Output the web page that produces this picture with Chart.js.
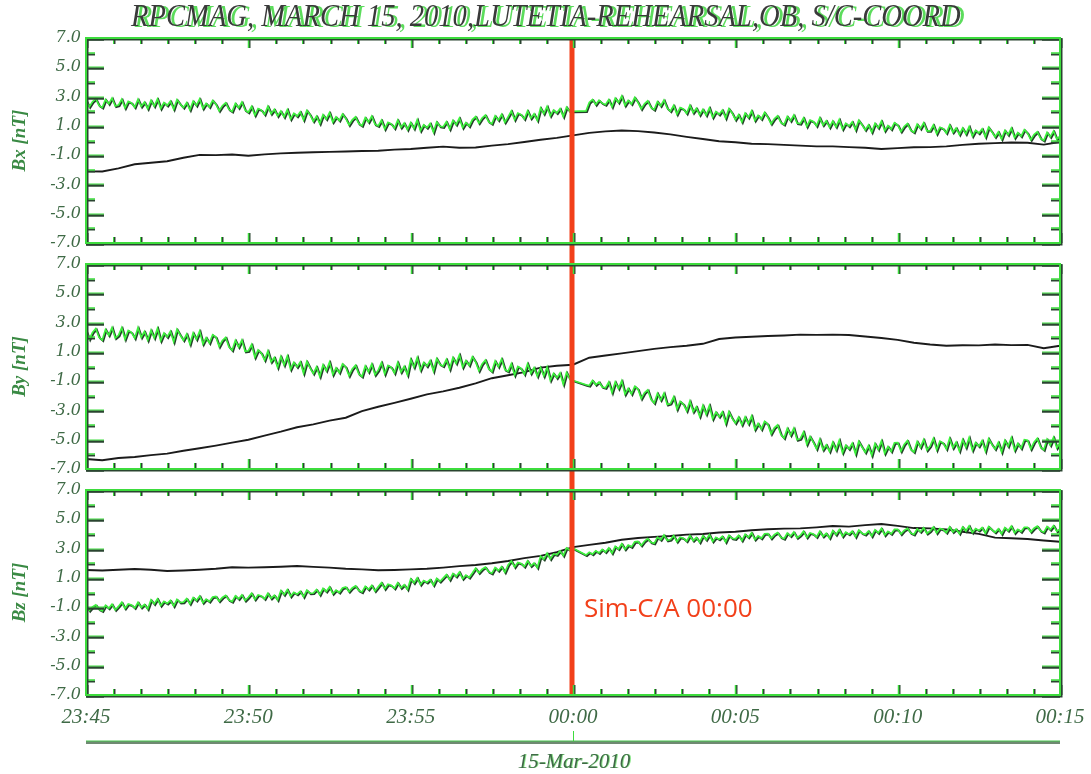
<!DOCTYPE html>
<html>
<head>
<meta charset="utf-8">
<script src="https://cdn.jsdelivr.net/npm/chart.js@4.4.1/dist/chart.umd.min.js"></script>
<style>
  html, body { margin: 0; padding: 0; background: #ffffff; }
  #wrap { position: relative; width: 1091px; height: 774px; overflow: hidden; background: #ffffff; }
  #wrap canvas { position: absolute; left: 0; }
  #title {
    position: absolute; top: -2px; left: 0; width: 1091px; text-align: center;
    font: italic 31px "Liberation Serif", serif; color: #3a3a3a; white-space: nowrap;
    text-shadow: 4px 1px 0 rgba(64, 214, 64, 0.85);
  }
  #titleText { display: inline-block; transform-origin: 50% 50%; }
  #caLabel {
    position: absolute; font: 26px "Open Sans", sans-serif; color: #f2401a;
    line-height: 26px; white-space: nowrap;
  }
  #dateLabel {
    position: absolute; top: 751px; left: 0; width: 1148px; text-align: center;
    font: italic 21px "Liberation Serif", serif; color: #3f6a46; line-height: 21px;
    text-shadow: 1px 0 0 rgba(64, 214, 64, 0.6);
  }
</style>
</head>
<body>
<div id="wrap">
  <canvas id="panelBx" width="1091" height="254" style="top:0px"></canvas>
  <canvas id="panelBy" width="1091" height="226" style="top:254px"></canvas>
  <canvas id="panelBz" width="1091" height="294" style="top:480px"></canvas>
  <div id="title"><span id="titleText">RPCMAG, MARCH 15, 2010,LUTETIA-REHEARSAL,OB, S/C-COORD</span></div>
  <div id="caLabel">Sim-C/A 00:00</div>
  <div id="dateLabel">15-Mar-2010</div>
</div>
<script>
// Time axis: minutes after 23:45 on 14/15 March 2010, 0 .. 30
const timeLabels = ['23:45', '23:50', '23:55', '00:00', '00:05', '00:10', '00:15'];
const timeTicks = [0, 5, 10, 15, 20, 25, 30];
const yTicks = [-7, -5, -3, -1, 1, 3, 5, 7];
const closestApproach = 15; // simulated closest approach, 00:00

// Green traces: one sample every 0.1 min, one row per minute (null = data gap at 00:00)
const bxGreen = [
  2.75, 2.3, 2.65, 2.85, 2.4, 2.25, 2.8, 2.5, 2.9, 2.35,
  2.42, 2.82, 2.22, 2.67, 2.57, 2.27, 2.82, 2.32, 2.62, 2.17,
  2.74, 2.34, 2.84, 2.19, 2.59, 2.39, 2.69, 2.14, 2.79, 2.49,
  2.24, 2.59, 2.09, 2.69, 2.39, 2.84, 2.19, 2.54, 2.29, 2.74,
  2.48, 2.03, 2.38, 2.58, 2.13, 1.98, 2.53, 2.23, 2.63, 2.08,
  1.93, 2.33, 1.73, 2.18, 2.08, 1.78, 2.33, 1.83, 2.13, 1.68,
  2.01, 1.61, 2.11, 1.46, 1.86, 1.66, 1.96, 1.41, 2.06, 1.76,
  1.31, 1.66, 1.16, 1.76, 1.46, 1.91, 1.26, 1.61, 1.36, 1.81,
  1.51, 1.06, 1.41, 1.61, 1.16, 1.01, 1.56, 1.26, 1.66, 1.11,
  0.99, 1.39, 0.79, 1.24, 1.14, 0.84, 1.39, 0.89, 1.19, 0.74,
  1.22, 0.82, 1.42, 0.67, 1.07, 0.87, 1.17, 0.57, 1.27, 0.97,
  0.93, 1.28, 0.78, 1.38, 1.08, 1.53, 0.88, 1.23, 0.98, 1.43,
  1.64, 1.19, 1.54, 1.74, 1.29, 1.14, 1.69, 1.39, 1.79, 1.24,
  1.62, 2.02, 1.42, 1.87, 1.77, 1.47, 2.02, 1.52, 1.82, 1.37,
  2.23, 1.83, 2.33, 1.68, 2.08, 1.88, 2.18, 1.63, 2.28, 1.98,
  2.0, null, null, null, 2.02, 2.6, 2.8, 2.45, 2.75, 2.55,
  2.44, 2.79, 2.29, 2.89, 2.59, 3.04, 2.39, 2.74, 2.49, 2.94,
  2.61, 2.16, 2.51, 2.71, 2.26, 2.11, 2.66, 2.36, 2.76, 2.21,
  2.0, 2.4, 1.8, 2.25, 2.15, 1.85, 2.4, 1.9, 2.2, 1.75,
  2.13, 1.73, 2.23, 1.58, 1.98, 1.78, 2.08, 1.53, 2.18, 1.88,
  1.42, 1.77, 1.27, 1.87, 1.57, 2.02, 1.37, 1.72, 1.47, 1.92,
  1.59, 1.14, 1.49, 1.69, 1.24, 1.09, 1.64, 1.34, 1.74, 1.19,
  1.15, 1.55, 0.95, 1.4, 1.3, 1.0, 1.55, 1.05, 1.35, 0.9,
  1.33, 0.93, 1.43, 0.78, 1.18, 0.98, 1.28, 0.73, 1.38, 1.08,
  0.72, 1.07, 0.57, 1.17, 0.87, 1.32, 0.67, 1.02, 0.77, 1.22,
  1.06, 0.61, 0.96, 1.16, 0.71, 0.56, 1.11, 0.81, 1.21, 0.66,
  0.66, 1.06, 0.46, 0.91, 0.81, 0.51, 1.06, 0.56, 0.86, 0.41,
  0.85, 0.45, 0.95, 0.3, 0.7, 0.5, 0.8, 0.25, 0.9, 0.6,
  0.24, 0.59, 0.09, 0.69, 0.39, 0.84, 0.19, 0.54, 0.29, 0.74,
  0.5, 0.05, 0.4, 0.6, 0.15, 0.0, 0.55, 0.25, 0.65, 0.1,
  0.3
];
const byGreen = [
  2.46, 1.87, 2.33, 2.59, 2.0, 1.81, 2.53, 2.13, 2.66, 1.94,
  2.13, 2.65, 1.87, 2.46, 2.33, 1.93, 2.65, 2.0, 2.39, 1.8,
  2.48, 1.95, 2.61, 1.76, 2.28, 2.02, 2.41, 1.69, 2.54, 2.15,
  1.79, 2.22, 1.53, 2.29, 1.86, 2.42, 1.54, 1.97, 1.61, 2.17,
  2.01, 1.37, 1.78, 1.99, 1.35, 1.11, 1.78, 1.33, 1.81, 1.04,
  1.07, 1.5, 0.63, 1.13, 0.91, 0.43, 1.06, 0.32, 0.62, -0.06,
  0.68, 0.1, 0.71, -0.19, 0.28, -0.03, 0.31, -0.46, 0.34, -0.1,
  -0.48, -0.02, -0.68, 0.11, -0.29, 0.3, -0.55, -0.09, -0.42, 0.17,
  -0.04, -0.63, -0.17, 0.09, -0.5, -0.69, 0.03, -0.37, 0.16, -0.56,
  -0.25, 0.27, -0.51, 0.08, -0.05, -0.45, 0.27, -0.38, 0.01, -0.58,
  0.48, -0.05, 0.61, -0.24, 0.28, 0.02, 0.41, -0.31, 0.54, 0.15,
  0.02, 0.48, -0.18, 0.61, 0.21, 0.8, -0.05, 0.41, 0.08, 0.67,
  0.31, -0.28, 0.18, 0.44, -0.15, -0.34, 0.38, -0.02, 0.51, -0.21,
  -0.33, 0.19, -0.59, 0.0, -0.13, -0.53, 0.19, -0.46, -0.07, -0.66,
  -0.07, -0.65, -0.04, -0.94, -0.47, -0.78, -0.44, -1.21, -0.41, -0.85,
  -0.95, null, null, null, -1.25, -1.3, -0.95, -1.25, -1.05, -1.4,
  -1.46, -1.06, -1.78, -1.05, -1.51, -0.98, -1.89, -1.49, -1.88, -1.35,
  -1.54, -2.19, -1.79, -1.59, -2.24, -2.49, -1.83, -2.29, -1.82, -2.6,
  -2.53, -2.07, -2.91, -2.38, -2.57, -3.03, -2.37, -3.08, -2.75, -3.4,
  -2.67, -3.26, -2.66, -3.57, -3.11, -3.43, -3.1, -3.88, -3.09, -3.54,
  -3.86, -3.46, -3.98, -3.45, -3.91, -3.38, -4.29, -3.89, -4.28, -3.75,
  -3.94, -4.59, -4.19, -3.99, -4.64, -4.89, -4.23, -4.69, -4.22, -5.0,
  -4.93, -4.47, -5.31, -4.78, -5.17, -5.63, -4.97, -5.68, -5.35, -5.8,
  -5.17, -5.7, -5.04, -5.89, -5.37, -5.63, -5.24, -5.96, -5.11, -5.5,
  -5.86, -5.4, -6.06, -5.27, -5.67, -5.08, -5.93, -5.47, -5.8, -5.21,
  -5.19, -5.78, -5.32, -5.06, -5.65, -5.84, -5.12, -5.52, -4.99, -5.71,
  -5.43, -4.91, -5.69, -5.1, -5.23, -5.63, -4.91, -5.56, -5.17, -5.76,
  -4.99, -5.52, -4.86, -5.71, -5.19, -5.45, -5.06, -5.78, -4.93, -5.32,
  -5.64, -5.18, -5.84, -5.05, -5.45, -4.86, -5.71, -5.25, -5.58, -4.99,
  -5.04, -5.63, -5.17, -4.91, -5.5, -5.69, -4.97, -5.37, -4.84, -5.56,
  -5.2
];
const bzGreen = [
  -0.91, -1.23, -0.98, -0.84, -1.15, -1.26, -0.87, -1.08, -0.8, -1.19,
  -0.95, -0.67, -1.09, -0.78, -0.85, -1.06, -0.67, -1.02, -0.81, -1.13,
  -0.5, -0.78, -0.43, -0.89, -0.61, -0.75, -0.54, -0.93, -0.47, -0.68,
  -0.66, -0.42, -0.77, -0.34, -0.55, -0.24, -0.7, -0.45, -0.62, -0.31,
  -0.27, -0.59, -0.34, -0.2, -0.51, -0.62, -0.23, -0.44, -0.16, -0.55,
  -0.33, -0.05, -0.47, -0.16, -0.23, -0.44, -0.05, -0.4, -0.19, -0.51,
  0.13, -0.15, 0.2, -0.26, 0.02, -0.12, 0.09, -0.3, 0.16, -0.05,
  -0.04, 0.2, -0.15, 0.28, 0.07, 0.38, -0.08, 0.17, 0.0, 0.31,
  0.38, 0.06, 0.31, 0.45, 0.14, 0.03, 0.42, 0.21, 0.49, 0.1,
  0.39, 0.67, 0.25, 0.56, 0.49, 0.28, 0.67, 0.32, 0.53, 0.21,
  0.93, 0.65, 1.0, 0.54, 0.82, 0.68, 0.89, 0.5, 0.96, 0.75,
  0.98, 1.22, 0.87, 1.3, 1.09, 1.4, 0.94, 1.19, 1.02, 1.33,
  1.66, 1.34, 1.59, 1.73, 1.42, 1.31, 1.7, 1.49, 1.77, 1.38,
  1.88, 2.16, 1.74, 2.05, 1.98, 1.77, 2.16, 1.81, 2.02, 1.7,
  2.48, 2.27, 2.69, 2.29, 2.64, 2.57, 2.84, 2.52, 3.05, 2.9,
  3.02, null, null, null, 2.56, 2.75, 2.62, 2.85, 2.7, 2.95,
  2.76, 3.04, 2.69, 3.15, 2.97, 3.33, 2.95, 3.24, 3.12, 3.46,
  3.49, 3.21, 3.5, 3.68, 3.43, 3.36, 3.78, 3.6, 3.93, 3.56,
  3.61, 3.89, 3.47, 3.78, 3.71, 3.5, 3.89, 3.54, 3.75, 3.43,
  3.88, 3.6, 3.95, 3.49, 3.77, 3.63, 3.84, 3.45, 3.91, 3.7,
  3.66, 3.9, 3.55, 3.98, 3.77, 4.08, 3.62, 3.87, 3.7, 4.01,
  4.02, 3.7, 3.95, 4.09, 3.78, 3.67, 4.06, 3.85, 4.13, 3.74,
  3.9, 4.18, 3.76, 4.07, 4.0, 3.79, 4.18, 3.83, 4.04, 3.72,
  4.23, 3.95, 4.3, 3.84, 4.12, 3.98, 4.19, 3.8, 4.26, 4.05,
  3.96, 4.2, 3.85, 4.28, 4.07, 4.38, 3.92, 4.17, 4.0, 4.31,
  4.31, 3.99, 4.24, 4.38, 4.07, 3.96, 4.35, 4.14, 4.42, 4.03,
  4.2, 4.48, 4.06, 4.37, 4.3, 4.09, 4.48, 4.13, 4.34, 4.02,
  4.48, 4.2, 4.55, 4.09, 4.37, 4.23, 4.44, 4.05, 4.51, 4.3,
  4.11, 4.35, 4.0, 4.43, 4.22, 4.53, 4.07, 4.32, 4.15, 4.46,
  4.46, 4.14, 4.39, 4.53, 4.22, 4.11, 4.5, 4.29, 4.57, 4.18,
  4.35
];

// Black traces: one sample every 0.5 min
const bxBlack = [
  -2.11, -2.12, -1.9, -1.62, -1.52, -1.42, -1.18, -0.98, -1.0, -0.96,
  -1.04, -0.95, -0.88, -0.84, -0.8, -0.78, -0.75, -0.72, -0.7, -0.62,
  -0.58, -0.5, -0.42, -0.5, -0.48, -0.35, -0.25, -0.1, 0.05, 0.18,
  0.35, 0.52, 0.62, 0.68, 0.64, 0.55, 0.42, 0.25, 0.1, -0.05,
  -0.12, -0.22, -0.25, -0.3, -0.35, -0.4, -0.4, -0.45, -0.5, -0.58,
  -0.52, -0.46, -0.45, -0.4, -0.3, -0.22, -0.18, -0.14, -0.15, -0.28,
  -0.1
];
const byBlack = [
  -6.32, -6.4, -6.25, -6.18, -6.05, -5.95, -5.75, -5.58, -5.4, -5.2,
  -5.0, -4.72, -4.45, -4.15, -3.95, -3.7, -3.5, -3.05, -2.75, -2.48,
  -2.2, -1.9, -1.7, -1.45, -1.15, -0.8, -0.6, -0.38, -0.08, 0.05,
  0.12, 0.6, 0.75, 0.9, 1.05, 1.2, 1.32, 1.42, 1.55, 1.88,
  1.98, 2.03, 2.08, 2.12, 2.18, 2.16, 2.18, 2.15, 2.05, 1.95,
  1.82, 1.62, 1.5, 1.42, 1.45, 1.44, 1.5, 1.46, 1.48, 1.25,
  1.42
];
const bzBlack = [
  1.54, 1.5, 1.55, 1.6, 1.55, 1.47, 1.5, 1.55, 1.62, 1.72,
  1.7, 1.72, 1.76, 1.81, 1.75, 1.7, 1.62, 1.58, 1.52, 1.54,
  1.58, 1.62, 1.7, 1.8, 1.88, 2.0, 2.15, 2.35, 2.5, 2.75,
  3.1, 3.25, 3.4, 3.6, 3.72, 3.8, 3.86, 3.95, 4.0, 4.1,
  4.15, 4.25, 4.32, 4.36, 4.38, 4.45, 4.54, 4.5, 4.6, 4.68,
  4.55, 4.4, 4.38, 4.3, 4.15, 4.0, 3.75, 3.7, 3.65, 3.55,
  3.47
];

const frameGreen = '#3ddc3d';
const frameDark = '#2a4430';
const labelColor = '#3f6a46';
const minorPerMajorX = 6;   // minor x ticks split each 5-minute step in six
const EDGE_INDEX = 1;       // dark copy of the green trace, printed slightly offset

// Frame, inward tick marks, closest-approach marker and date line
const panelDecor = {
  id: 'panelDecor',
  beforeDatasetDraw(chart, args) {
    if (args.index === EDGE_INDEX) { chart.ctx.save(); chart.ctx.translate(1, 1); }
  },
  afterDatasetDraw(chart, args) {
    if (args.index === EDGE_INDEX) chart.ctx.restore();
  },
  afterDatasetsDraw(chart, args, opts) {
    const ctx = chart.ctx, xs = chart.scales.x, a = chart.chartArea;
    const xp = xs.getPixelForValue(closestApproach) - 1;
    const y0 = opts.redFromCanvasTop ? 0 : a.top;
    const y1 = opts.redToCanvasBottom ? chart.height : a.bottom;
    ctx.save();
    ctx.fillStyle = '#f2401a';
    ctx.fillRect(xp - 2.5, y0, 5, y1 - y0);
    ctx.restore();
  },
  afterDraw(chart, args, opts) {
    const ctx = chart.ctx, xs = chart.scales.x, ys = chart.scales.y, a = chart.chartArea;
    ctx.save();
    ctx.lineCap = 'butt';
    const hTick = (x1, x2, y, major) => {
      ctx.strokeStyle = frameDark; ctx.lineWidth = major ? 2.5 : 2;
      ctx.beginPath(); ctx.moveTo(x1, y + 1); ctx.lineTo(x2, y + 1); ctx.stroke();
      ctx.strokeStyle = frameGreen; ctx.lineWidth = major ? 1 : 1.5;
      ctx.beginPath(); ctx.moveTo(x1, y - 0.5); ctx.lineTo(x2, y - 0.5); ctx.stroke();
    };
    const vTick = (x, y1, y2, major) => {
      ctx.strokeStyle = frameDark; ctx.lineWidth = 2;
      ctx.beginPath(); ctx.moveTo(x + 1, y1); ctx.lineTo(x + 1, y2); ctx.stroke();
      ctx.strokeStyle = frameGreen; ctx.lineWidth = major ? 1.5 : 1;
      ctx.beginPath(); ctx.moveTo(x, y1); ctx.lineTo(x, y2); ctx.stroke();
    };
    for (let v = -7; v <= 7; v++) {
      const p = Math.round(ys.getPixelForValue(v)) + 0.5;
      const major = v % 2 !== 0;
      const len = major ? 18 : 9;
      hTick(a.left, a.left + len, p, major);
      hTick(a.right - len, a.right, p, major);
    }
    const nMinor = (timeTicks.length - 1) * minorPerMajorX;
    for (let k = 0; k <= nMinor; k++) {
      const t = timeTicks[0] + k * (timeTicks[1] - timeTicks[0]) / minorPerMajorX;
      const p = Math.round(xs.getPixelForValue(t)) + 0.5;
      const major = k % minorPerMajorX === 0;
      const len = major ? 10 : 6;
      vTick(p, a.top, a.top + len, major);
      vTick(p, a.bottom - len, a.bottom, major);
    }
    // box
    ctx.lineWidth = 2;
    ctx.strokeStyle = frameDark;
    ctx.strokeRect(a.left + 1.5, a.top + 1.5, a.right - a.left, a.bottom - a.top);
    ctx.strokeStyle = frameGreen;
    ctx.strokeRect(a.left, a.top, a.right - a.left, a.bottom - a.top);

    if (opts.dateLineY) {
      const y = opts.dateLineY;
      ctx.fillStyle = '#6f8a72';
      ctx.fillRect(a.left, y - 1, a.right - a.left, 3);
      ctx.fillStyle = '#48c84e';
      ctx.fillRect(a.left, y - 1.5, a.right - a.left, 1);
      const tx = Math.round(xs.getPixelForValue(closestApproach)) + 0.5;
      ctx.strokeStyle = '#3ddc3d'; ctx.lineWidth = 1;
      ctx.beginPath(); ctx.moveTo(tx, y - 11); ctx.lineTo(tx, y - 1); ctx.stroke();
    }
    ctx.restore();
  }
};

function makePanel(canvasId, axisTitle, green, black, cfg) {
  const span = timeTicks[timeTicks.length - 1] - timeTicks[0];
  const gStep = span / (green.length - 1);
  const bStep = span / (black.length - 1);
  const greenPts = green.map((v, i) => ({ x: timeTicks[0] + i * gStep, y: v }));
  const blackPts = black.map((v, i) => ({ x: timeTicks[0] + i * bStep, y: v }));
  return new Chart(document.getElementById(canvasId), {
    type: 'line',
    data: {
      datasets: [
        { label: axisTitle + ' green', data: greenPts, borderColor: '#3cf23c', borderWidth: 1.6, spanGaps: true, order: 0 },
        { label: axisTitle + ' green edge', data: greenPts, borderColor: '#24402a', borderWidth: 2.0, spanGaps: true, order: 1 },
        { label: axisTitle + ' black', data: blackPts, borderColor: '#1b1b1b', borderWidth: 1.9, order: 2 }
      ]
    },
    options: {
      responsive: false,
      animation: false,
      devicePixelRatio: 1,
      layout: { padding: { top: cfg.padTop, bottom: cfg.padBottom, left: 0, right: 31 } },
      elements: { point: { radius: 0 }, line: { tension: 0 } },
      plugins: {
        legend: { display: false },
        tooltip: { enabled: false },
        panelDecor: cfg.decor
      },
      scales: {
        x: {
          type: 'linear',
          min: timeTicks[0],
          max: timeTicks[timeTicks.length - 1],
          display: cfg.showTime,
          grid: { display: false, drawTicks: false },
          border: { display: false },
          afterBuildTicks: s => { s.ticks = timeTicks.map(v => ({ value: v })); },
          afterFit: s => {
            if (cfg.timeAxisHeight) s.height = cfg.timeAxisHeight;
            s.paddingLeft = 0; s.paddingRight = 0;
          },
          ticks: {
            autoSkip: false, maxRotation: 0, padding: 10,
            color: labelColor,
            font: { family: '"Liberation Serif", serif', style: 'italic', size: 21 },
            callback: (v, i) => timeLabels[i]
          }
        },
        y: {
          min: yTicks[0],
          max: yTicks[yTicks.length - 1],
          grid: { display: false, drawTicks: false },
          border: { display: false },
          afterBuildTicks: s => { s.ticks = yTicks.map(v => ({ value: v })); },
          afterFit: s => { s.width = 86; s.paddingTop = 0; s.paddingBottom = 0; },
          ticks: {
            autoSkip: false, padding: 5,
            color: labelColor,
            font: { family: '"DejaVu Serif", serif', style: 'italic', size: 16 },
            callback: v => v.toFixed(1)
          },
          title: {
            display: true,
            text: axisTitle,
            color: '#3a8a44',
            padding: { top: 9, bottom: 0 },
            font: { family: '"Liberation Serif", serif', style: 'italic', weight: 'bold', size: 19 }
          }
        }
      }
    },
    plugins: [panelDecor]
  });
}

makePanel('panelBx', 'Bx [nT]', bxGreen, bxBlack, {
  padTop: 38, padBottom: 11, showTime: false,
  decor: { redFromCanvasTop: false, redToCanvasBottom: true }
});
makePanel('panelBy', 'By [nT]', byGreen, byBlack, {
  padTop: 10, padBottom: 11, showTime: false,
  decor: { redFromCanvasTop: true, redToCanvasBottom: true }
});
const bzChart = makePanel('panelBz', 'Bz [nT]', bzGreen, bzBlack, {
  padTop: 10, padBottom: 0, showTime: true, timeAxisHeight: 79,
  decor: { redFromCanvasTop: true, redToCanvasBottom: false, dateLineY: 262 }
});

// Marker caption beside the closest-approach line
const ca = document.getElementById('caLabel');
ca.style.left = Math.round(bzChart.scales.x.getPixelForValue(closestApproach) + 11) + 'px';
ca.style.top = '594px';

// Fit the heading to the width of the panels
const tt = document.getElementById('titleText');
const tw = tt.getBoundingClientRect().width;
tt.style.transform = 'scaleX(' + (830 / tw).toFixed(3) + ')';
</script>
</body>
</html>
